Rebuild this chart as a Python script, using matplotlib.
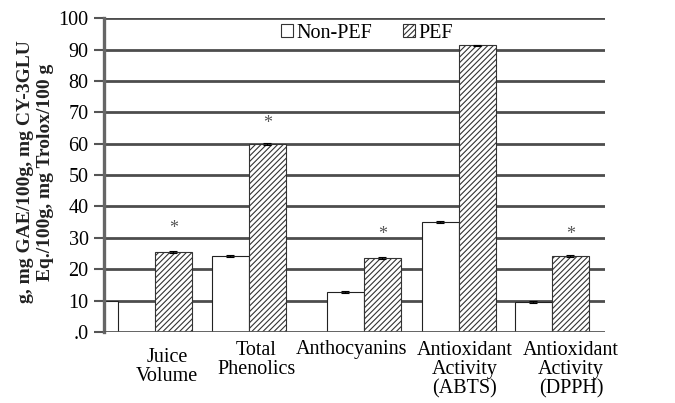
import matplotlib
matplotlib.use("Agg")
from matplotlib import pyplot as plt
from matplotlib.patches import Patch
import matplotlib.transforms as mtransforms

plt.rcParams['font.family'] = ['Liberation Serif', 'DejaVu Serif']
plt.rcParams['hatch.linewidth'] = 0.8

# data
categories = ["Juice\nVolume", "Total\nPhenolics", "Anthocyanins",
              "Antioxidant\nActivity\n(ABTS)", "Antioxidant\nActivity\n(DPPH)"]
non_pef = [10, 24.2, 12.7, 35.2, 9.6]
pef = [25.6, 59.8, 23.7, 91.3, 24.2]
non_pef_err = [0.2, 0.3, 0.3, 0.3, 0.3]
pef_err = [0.3, 0.3, 0.3, 0.3, 0.3]
star_y = [33, 66.5, 31, 101, 31]
yticks = [0, 10, 20, 30, 40, 50, 60, 70, 80, 90, 100]
ytick_labels = [".0", "10", "20", "30", "40", "50", "60", "70", "80", "90", "100"]

# layout (x in group units, axis starts at 0)
w = 0.394
non_pef_x = [-0.048, 1.346, 2.569, 3.58, 4.569]
pef_x = [0.74, 1.74, 2.963, 3.974, 4.963]
label_x = [0.67, 1.62, 2.64, 3.84, 4.97]
label_y = [-0.05, -0.03, -0.025, -0.028, -0.028]

fig = plt.figure(figsize=(6.75, 4.03), dpi=100)
ax = fig.add_axes([0.154, 0.176, 0.742, 0.779])

for y in yticks[1:]:
    ax.axhline(y, color='#4d4d4d', lw=2.0, zorder=1)
ax.axhline(0, color='#555555', lw=2.0, zorder=4)

ax.bar(non_pef_x, non_pef, w, color='white', edgecolor='#222222', lw=0.8, zorder=2)
ax.bar(pef_x, pef, w, color='white', edgecolor='#333333', lw=0.8,
       hatch='//////', zorder=2)
ax.errorbar(non_pef_x, non_pef, yerr=non_pef_err, fmt='none', ecolor='black',
            capsize=3, elinewidth=0.7, capthick=0.8, zorder=3)
ax.errorbar(pef_x, pef, yerr=pef_err, fmt='none', ecolor='black',
            capsize=3, elinewidth=0.7, capthick=0.8, zorder=3)

for x, y in zip(pef_x, star_y):
    ax.text(x, y, "*", ha='center', va='center', fontsize=13, color='#555555',
            clip_on=True, zorder=3)

ax.set_xlim(0, 5.33)
ax.set_ylim(0, 100)
ax.set_yticks(yticks)
ax.set_yticklabels(ytick_labels, fontsize=14.5)
ax.set_xticks([])
ax.tick_params(axis='y', direction='out', length=7, width=1.5, color='#555555', pad=4)

for s in ['top', 'right', 'bottom']:
    ax.spines[s].set_visible(False)
ax.spines['left'].set_color('#666666')
ax.spines['left'].set_linewidth(2.4)

trans = mtransforms.blended_transform_factory(ax.transData, ax.transAxes)
for x, yy, lab in zip(label_x, label_y, categories):
    ax.text(x, yy, lab, transform=trans, ha='center', va='top',
            fontsize=14.5, linespacing=1.0)

ax.set_ylabel("g, mg GAE/100g, mg CY-3GLU\nEq./100g, mg Trolox/100 g",
              fontsize=14, fontweight='bold', linespacing=1.25, color='#222222')
ax.yaxis.set_label_coords(-0.10, 0.51)

handles = [Patch(facecolor='white', edgecolor='#333333', lw=0.8),
           Patch(facecolor='white', edgecolor='#333333', lw=0.8, hatch='//////')]
ax.legend(handles, ["Non-PEF", "PEF"], loc='center', bbox_to_anchor=(0.525, 0.952),
          ncol=2, frameon=False, fontsize=14.5, handlelength=0.6, handleheight=0.6,
          handletextpad=0.2, columnspacing=1.5, borderaxespad=0)

fig.savefig("out.png", dpi=100)
